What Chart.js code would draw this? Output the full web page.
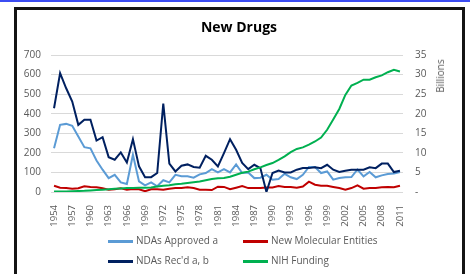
<!DOCTYPE html>
<html>
<head>
<meta charset="utf-8">
<script src="https://cdn.jsdelivr.net/npm/chart.js@4"></script>
<style>
  html, body { margin: 0; padding: 0; background: #fff; }
  body { width: 470px; height: 274px; position: relative; overflow: hidden; font-family: 'Open Sans', sans-serif; }
  #topline { position: absolute; left: 0; top: 0; width: 470px; height: 2px; background: #3b4cf2; }
  #frame { position: absolute; left: 14px; top: 7px; width: 445px; height: 300px; border: 3px solid #141414; }
  #chart { position: absolute; left: 0; top: 0; }
  #title { position: absolute; left: 0; width: 478px; top: 17px; text-align: center; font-weight: bold; font-size: 14px; color: #000; }
  #billions { position: absolute; left: 440px; top: 76px; font-size: 10px; color: #595959; transform: translate(-50%, -50%) rotate(-90deg); white-space: nowrap; }
  .leg { position: absolute; font-size: 10px; color: #595959; white-space: nowrap; }
  .leg i { position: absolute; left: 0; top: 7px; width: 25px; height: 2.5px; }
  .leg span { position: absolute; left: 28px; top: 0; }
</style>
</head>
<body>
<div id="topline"></div>
<div id="frame"></div>
<canvas id="chart" width="470" height="274"></canvas>
<div id="title">New Drugs</div>
<div id="billions">Billions</div>
<div id="legend"></div>
<script>
// categories: every year from 1954 to 2011
const years = [];
for (let y = 1954; y <= 2011; y++) years.push(String(y));

// NDAs approved (count)
const ndasApproved = [224, 343, 348, 338, 284, 229, 223, 161, 114, 71, 88, 49, 41, 190, 54, 34, 49, 29, 60, 49,
  88, 80, 80, 73, 90, 97, 117, 100, 117, 100, 141, 97, 100, 71, 73, 88, 63, 66, 93, 75,
  66, 88, 128, 128, 97, 105, 63, 71, 75, 76, 115, 80, 102, 75, 85, 92, 94, 102];

// New molecular entities (count)
const newMolecularEntities = [32, 22, 20, 17, 19, 29, 25, 24, 19, 12, 14, 19, 12, 15, 14, 4, 14, 14, 12, 17,
  20, 20, 24, 20, 12, 12, 10, 27, 26, 14, 22, 30, 20, 21, 20, 23, 23, 30, 26, 25,
  22, 28, 53, 37, 32, 32, 26, 20, 12, 20, 34, 17, 20, 20, 24, 26, 24, 32];

// NDAs received (count)
const ndasReceived = [428, 607, 530, 462, 343, 369, 369, 263, 280, 178, 165, 202, 151, 270, 131, 76, 76, 97, 452, 145,
  105, 134, 141, 128, 124, 185, 165, 131, 199, 270, 216, 148, 117, 139, 122, 0, 97, 110, 100, 100,
  114, 122, 122, 126, 122, 139, 114, 102, 109, 114, 114, 114, 126, 122, 145, 145, 102, 109];

// NIH funding (billions, right axis)
const nihFunding = [0.1, 0.1, 0.15, 0.2, 0.25, 0.3, 0.4, 0.5, 0.6, 0.7, 0.8, 0.9, 1.0, 1.05, 1.1, 1.1, 1.15, 1.4, 1.6, 1.7,
  2.0, 2.1, 2.3, 2.5, 2.7, 3.0, 3.3, 3.5, 3.6, 3.9, 4.4, 4.9, 5.2, 5.8, 6.3, 6.9, 7.4, 8.2, 9.1, 10.2,
  11.0, 11.4, 12.1, 12.9, 13.9, 15.9, 18.5, 21.2, 24.8, 27.2, 27.9, 28.7, 28.7, 29.3, 29.8, 30.6, 31.2, 30.8];

const seriesNames = ['NDAs Approved a', 'New Molecular Entities', "NDAs Rec'd a, b", 'NIH Funding'];
const seriesColors = ['#5b9bd5', '#c00000', '#002060', '#00b050'];

Chart.defaults.font.family = "'Open Sans', sans-serif";
Chart.defaults.font.size = 10;
Chart.defaults.color = '#595959';

function line(i, data, axis, order) {
  return {
    label: seriesNames[i],
    data: data,
    borderColor: seriesColors[i],
    backgroundColor: seriesColors[i],
    borderWidth: 2,
    pointRadius: 0,
    tension: 0,
    fill: false,
    yAxisID: axis,
    order: order
  };
}

const ctx = document.getElementById('chart').getContext('2d');
new Chart(ctx, {
  type: 'line',
  data: {
    labels: years,
    datasets: [
      line(0, ndasApproved, 'y', 3),
      line(1, newMolecularEntities, 'y', 2),
      line(2, ndasReceived, 'y', 1),
      line(3, nihFunding, 'y1', 0)
    ]
  },
  options: {
    responsive: false,
    animation: false,
    devicePixelRatio: 1,
    layout: { padding: { top: 55, left: 15, right: 20, bottom: 42 } },
    plugins: { legend: { display: false }, tooltip: { enabled: false } },
    scales: {
      x: {
        offset: true,
        grid: { display: false },
        border: { display: false },
        ticks: {
          autoSkip: false,
          minRotation: 90,
          maxRotation: 90,
          padding: 5,
          font: { size: 9.5 },
          callback: function(value, index) {
            return index % 3 === 0 ? this.getLabelForValue(value) : '';
          }
        },
        afterFit: function(scale) { scale.height = 40; }
      },
      y: {
        position: 'left',
        min: 0,
        max: 700,
        grid: { color: '#d9d9d9', drawTicks: false },
        border: { display: false },
        ticks: { stepSize: 100, padding: 10 },
        afterFit: function(scale) { scale.width = 36; }
      },
      y1: {
        position: 'right',
        min: 0,
        max: 35,
        grid: { display: false, drawTicks: false },
        border: { display: false },
        ticks: {
          stepSize: 5,
          padding: 12,
          callback: function(value) { return value === 0 ? '-' : value; }
        },
        afterFit: function(scale) { scale.width = 47; }
      }
    }
  }
});

// legend, two rows of two
const legend = document.getElementById('legend');
const legendX = [108, 243];
const legendY = [233, 253];
seriesNames.forEach(function(name, i) {
  const item = document.createElement('div');
  item.className = 'leg';
  item.style.left = legendX[i % 2] + 'px';
  item.style.top = legendY[Math.floor(i / 2)] + 'px';
  item.innerHTML = '<i style="background:' + seriesColors[i] + '"></i><span></span>';
  item.querySelector('span').textContent = name;
  legend.appendChild(item);
});
</script>
</body>
</html>
